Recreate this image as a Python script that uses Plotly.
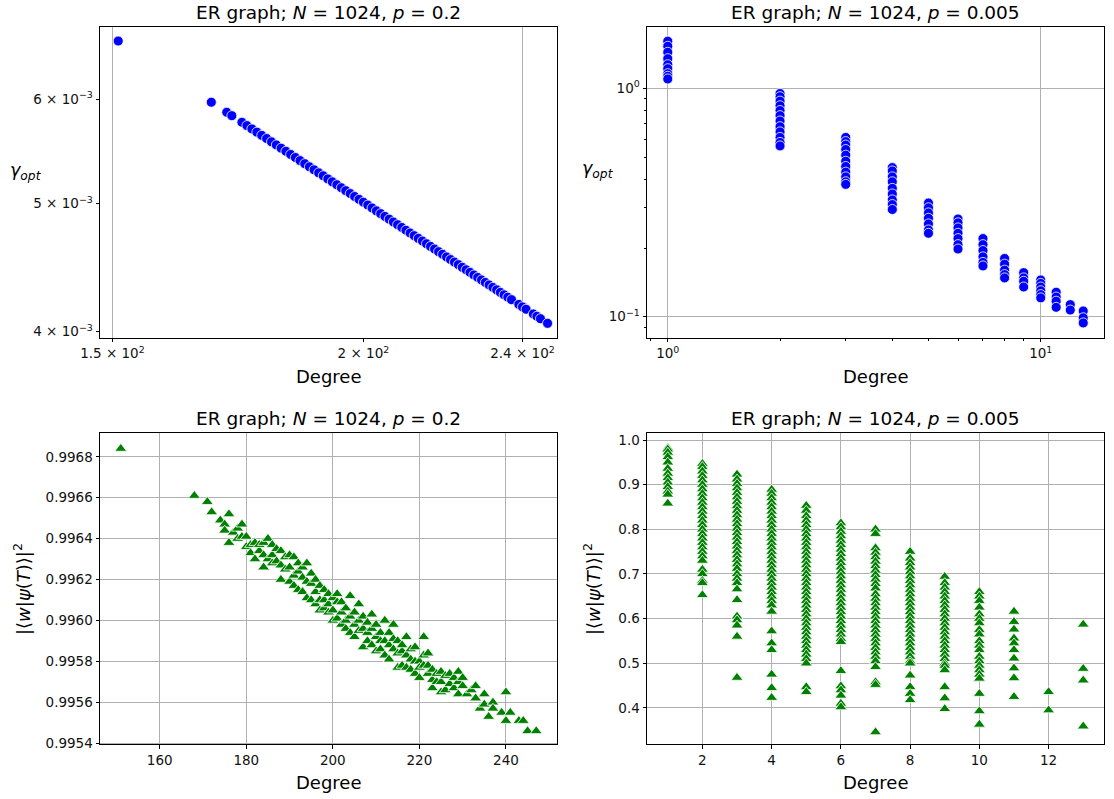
import plotly.graph_objects as go

# ---------------- data: N=1024, p=0.2 ----------------
dense_degree = [151, 168, 171, 172, 174, 175, 176, 177, 178, 179, 180, 181, 182, 183, 184, 185,
                186, 187, 188, 189, 190, 191, 192, 193, 194, 195, 196, 197, 198, 199, 200, 201,
                202, 203, 204, 205, 206, 207, 208, 209, 210, 211, 212, 213, 214, 215, 216, 217,
                218, 219, 220, 221, 222, 223, 224, 225, 226, 227, 228, 229, 230, 231, 232, 233,
                234, 235, 236, 237, 239, 240, 241, 243, 244, 245, 247]
dense_gamma = [0.006639, 0.005967, 0.005863, 0.005829, 0.005762, 0.005729, 0.005696, 0.005664,
               0.005632, 0.005601, 0.005569, 0.005539, 0.005508, 0.005478, 0.005448, 0.005419,
               0.005390, 0.005361, 0.005332, 0.005304, 0.005276, 0.005249, 0.005221, 0.005194,
               0.005168, 0.005141, 0.005115, 0.005089, 0.005063, 0.005038, 0.005013, 0.004988,
               0.004963, 0.004938, 0.004914, 0.004890, 0.004867, 0.004843, 0.004820, 0.004797,
               0.004774, 0.004751, 0.004729, 0.004707, 0.004685, 0.004663, 0.004641, 0.004620,
               0.004599, 0.004578, 0.004557, 0.004536, 0.004516, 0.004496, 0.004475, 0.004456,
               0.004436, 0.004416, 0.004397, 0.004378, 0.004359, 0.004340, 0.004321, 0.004303,
               0.004284, 0.004266, 0.004248, 0.004230, 0.004195, 0.004177, 0.004160, 0.004126,
               0.004109, 0.004092, 0.004059]

bl_degree = [151, 168, 171, 172, 174, 175, 175, 176, 176, 177, 178, 178, 179, 179, 180, 180,
             181, 181, 182, 182, 183, 183, 184, 184, 184, 185, 185, 186, 186, 186, 187, 187,
             188, 188, 188, 189, 189, 190, 190, 190, 191, 191, 191, 192, 192, 192, 193, 193, 193,
             194, 194, 194, 195, 195, 195, 196, 196, 196, 197, 197, 197, 198, 198, 198, 199, 199, 199,
             200, 200, 200, 201, 201, 201, 202, 202, 202, 203, 203, 203, 204, 204, 204, 205, 205, 205,
             206, 206, 206, 207, 207, 207, 208, 208, 208, 209, 209, 209, 210, 210, 210, 211, 211, 211,
             212, 212, 212, 213, 213, 213, 214, 214, 214, 215, 215, 215, 216, 216, 216, 217, 217, 217,
             218, 218, 218, 219, 219, 219, 220, 220, 220, 221, 221, 221, 222, 222, 222, 223, 223, 223,
             224, 224, 225, 225, 225, 226, 226, 227, 227, 228, 228, 229, 229, 229, 230, 230, 231, 232,
             233, 233, 234, 235, 235, 236, 237, 237, 239, 240, 240, 241, 243, 244, 245, 247]
bl_fidelity = [0.99684, 0.99661, 0.99658, 0.99653, 0.99649, 0.99647, 0.99644, 0.99652, 0.99638,
               0.99643, 0.99645, 0.99640, 0.99647, 0.99641, 0.99641, 0.99636, 0.99637, 0.99633,
               0.99638, 0.99630, 0.99634, 0.99637, 0.99626, 0.99638, 0.99632, 0.99640, 0.99630,
               0.99632, 0.99628, 0.99637, 0.99629, 0.99635, 0.99634, 0.99620, 0.99627, 0.99625,
               0.99631, 0.99619, 0.99626, 0.99632, 0.99631, 0.99622, 0.99617, 0.99624, 0.99628,
               0.99615, 0.99621, 0.99614, 0.99626, 0.99628, 0.99619, 0.99611, 0.99618, 0.99623,
               0.99610, 0.99620, 0.99614, 0.99608, 0.99617, 0.99610, 0.99605, 0.99610, 0.99615,
               0.99606, 0.99613, 0.99604, 0.99608, 0.99605, 0.99611, 0.99600, 0.99601, 0.99609,
               0.99613, 0.99604, 0.99598, 0.99609, 0.99606, 0.99600, 0.99596, 0.99612, 0.99602,
               0.99594, 0.99598, 0.99604, 0.99592, 0.99608, 0.99595, 0.99600, 0.99587, 0.99596,
               0.99602, 0.99599, 0.99590, 0.99594, 0.99603, 0.99596, 0.99588, 0.99592, 0.99598,
               0.99585, 0.99594, 0.99586, 0.99590, 0.99600, 0.99590, 0.99583, 0.99581, 0.99588,
               0.99594, 0.99598, 0.99586, 0.99591, 0.99584, 0.99590, 0.99577, 0.99578, 0.99585,
               0.99588, 0.99592, 0.99583, 0.99577, 0.99576, 0.99586, 0.99581, 0.99580, 0.99574,
               0.99587, 0.99572, 0.99580, 0.99577, 0.99592, 0.99578, 0.99583, 0.99584, 0.99574,
               0.99578, 0.99567, 0.99576, 0.99571, 0.99574, 0.99570, 0.99565, 0.99570, 0.99575,
               0.99573, 0.99566, 0.99569, 0.99574, 0.99572, 0.99567, 0.99575, 0.99564, 0.99570,
               0.99568, 0.99572, 0.99564, 0.99566, 0.99568, 0.99562, 0.99557, 0.99564, 0.99559,
               0.99553, 0.99560, 0.99557, 0.99555, 0.99565, 0.99551, 0.99555, 0.99551, 0.99551,
               0.99546, 0.99546]

# ---------------- data: N=1024, p=0.005 ----------------
sparse_degrees = [1, 2, 3, 4, 5, 6, 7, 8, 9, 10, 11, 12, 13]
gamma_k1 = [1.61, 1.53, 1.44, 1.35, 1.27, 1.22, 1.16, 1.13, 1.10]
gamma_k2 = [0.95, 0.92, 0.88, 0.84, 0.80, 0.76, 0.72, 0.68, 0.645, 0.61, 0.58, 0.56]
gamma_k3 = [0.61, 0.585, 0.565, 0.54, 0.51, 0.48, 0.455, 0.43, 0.41, 0.39, 0.38]
gamma_k4 = [0.45, 0.435, 0.41, 0.39, 0.365, 0.345, 0.325, 0.31, 0.295]
gamma_k5 = [0.315, 0.30, 0.285, 0.27, 0.255, 0.24, 0.232]
gamma_k6 = [0.268, 0.258, 0.245, 0.232, 0.22, 0.207, 0.198]
gamma_k7 = [0.22, 0.207, 0.195, 0.183, 0.173, 0.167]
gamma_k8 = [0.18, 0.17, 0.16, 0.153, 0.148]
gamma_k9 = [0.156, 0.148, 0.143, 0.135]
gamma_k10 = [0.145, 0.14, 0.135, 0.13, 0.125, 0.121]
gamma_k11 = [0.128, 0.122, 0.117, 0.11]
gamma_k12 = [0.113, 0.107]
gamma_k13 = [0.106, 0.099, 0.094]

fid_k1 = [0.982, 0.979, 0.972, 0.962, 0.95, 0.936, 0.925, 0.915, 0.905, 0.895, 0.885, 0.878, 0.858]
fid_k2 = [0.947, 0.94, 0.93, 0.92, 0.91, 0.90, 0.89, 0.88, 0.87, 0.86, 0.85, 0.84, 0.83, 0.82,
          0.81, 0.80, 0.79, 0.78, 0.77, 0.76, 0.75, 0.74, 0.73, 0.71, 0.70, 0.685, 0.68, 0.653]
fid_k3 = [0.923, 0.912, 0.902, 0.892, 0.882, 0.872, 0.862, 0.852, 0.842, 0.832, 0.822, 0.812,
          0.802, 0.792, 0.782, 0.772, 0.762, 0.752, 0.742, 0.732, 0.722, 0.712, 0.70, 0.69, 0.68,
          0.666, 0.642, 0.605, 0.597, 0.585, 0.56, 0.468]
fid_k4 = [0.889, 0.88, 0.87, 0.86, 0.85, 0.84, 0.83, 0.82, 0.81, 0.80, 0.79, 0.78, 0.77, 0.76,
          0.75, 0.74, 0.73, 0.72, 0.71, 0.70, 0.69, 0.68, 0.67, 0.66, 0.65, 0.64, 0.63, 0.616,
          0.572, 0.545, 0.53, 0.475, 0.445, 0.423]
fid_k5 = [0.853, 0.842, 0.83, 0.82, 0.81, 0.80, 0.79, 0.78, 0.77, 0.76, 0.75, 0.74, 0.73, 0.72,
          0.71, 0.70, 0.69, 0.68, 0.67, 0.66, 0.65, 0.64, 0.63, 0.62, 0.61, 0.60, 0.59, 0.58,
          0.57, 0.56, 0.55, 0.54, 0.53, 0.52, 0.51, 0.50, 0.447, 0.436]
fid_k6 = [0.814, 0.805, 0.795, 0.785, 0.775, 0.765, 0.755, 0.745, 0.735, 0.725, 0.715, 0.705,
          0.695, 0.685, 0.675, 0.665, 0.655, 0.645, 0.635, 0.625, 0.615, 0.605, 0.595, 0.585,
          0.575, 0.565, 0.555, 0.548, 0.483, 0.449, 0.44, 0.428, 0.41, 0.402]
fid_k7 = [0.80, 0.79, 0.758, 0.748, 0.738, 0.728, 0.718, 0.708, 0.698, 0.688, 0.678, 0.668,
          0.655, 0.645, 0.635, 0.625, 0.615, 0.605, 0.595, 0.585, 0.575, 0.565, 0.555, 0.545,
          0.535, 0.525, 0.515, 0.505, 0.492, 0.458, 0.452, 0.346]
fid_k8 = [0.75, 0.735, 0.725, 0.715, 0.705, 0.695, 0.685, 0.675, 0.665, 0.655, 0.645, 0.635,
          0.625, 0.615, 0.605, 0.595, 0.585, 0.575, 0.565, 0.555, 0.545, 0.535, 0.525, 0.515,
          0.505, 0.50, 0.473, 0.447, 0.432, 0.418]
fid_k9 = [0.694, 0.68, 0.67, 0.66, 0.65, 0.64, 0.63, 0.62, 0.61, 0.60, 0.59, 0.58, 0.57, 0.56,
          0.55, 0.54, 0.53, 0.52, 0.51, 0.50, 0.495, 0.485, 0.447, 0.422, 0.398]
fid_k10 = [0.66, 0.65, 0.64, 0.625, 0.61, 0.60, 0.59, 0.575, 0.565, 0.55, 0.54, 0.53, 0.515,
           0.505, 0.495, 0.485, 0.475, 0.466, 0.432, 0.393, 0.363]
fid_k11 = [0.616, 0.593, 0.576, 0.556, 0.545, 0.53, 0.511, 0.489, 0.467, 0.425]
fid_k12 = [0.436, 0.395]
fid_k13 = [0.587, 0.488, 0.462, 0.359]

gamma_groups = [gamma_k1, gamma_k2, gamma_k3, gamma_k4, gamma_k5, gamma_k6, gamma_k7,
                gamma_k8, gamma_k9, gamma_k10, gamma_k11, gamma_k12, gamma_k13]
fid_groups = [fid_k1, fid_k2, fid_k3, fid_k4, fid_k5, fid_k6, fid_k7,
              fid_k8, fid_k9, fid_k10, fid_k11, fid_k12, fid_k13]

tr_x, tr_y, br_x, br_y = [], [], [], []
for k, g, f in zip(sparse_degrees, gamma_groups, fid_groups):
    tr_x += [k] * len(g)
    tr_y += g
    br_x += [k] * len(f)
    br_y += f

# ---------------- styling ----------------
W, H = 1114, 799
FONT = "DejaVu Sans"
BLUE = "#0000ff"
GREEN = "#008000"
GRID = "#b0b0b0"

def px(x):
    return x / W

def py(y):
    return 1 - y / H

L_DOM = [px(100), px(557)]
R_DOM = [px(647), px(1104)]
T_DOM = [py(337.5), py(27)]
B_DOM = [py(744.3), py(433.3)]

fig = go.Figure()

circ = dict(color=BLUE, size=10, symbol="circle", line=dict(color="white", width=0.8))
tri = dict(color=GREEN, size=10.5, symbol="triangle-up", line=dict(color="white", width=0.8))

fig.add_trace(go.Scatter(x=dense_degree, y=dense_gamma, mode="markers", marker=circ,
                         xaxis="x", yaxis="y", showlegend=False))
fig.add_trace(go.Scatter(x=tr_x, y=tr_y, mode="markers", marker=circ,
                         xaxis="x2", yaxis="y2", showlegend=False))
fig.add_trace(go.Scatter(x=bl_degree, y=bl_fidelity, mode="markers", marker=tri,
                         xaxis="x3", yaxis="y3", showlegend=False))
fig.add_trace(go.Scatter(x=br_x, y=br_y, mode="markers", marker=tri,
                         xaxis="x4", yaxis="y4", showlegend=False))

base_ax = dict(showline=True, linecolor="black", linewidth=1, mirror=True,
               ticks="outside", ticklen=3.5, tickwidth=0.8, tickcolor="black",
               tickfont=dict(family=FONT, size=13.5, color="#111"),
               zeroline=False, gridcolor=GRID, gridwidth=1, automargin=False)

def sup(s):
    return "<sup>" + s + "</sup>"

fig.update_layout(
    width=W, height=H, margin=dict(l=0, r=0, t=0, b=0, autoexpand=False),
    paper_bgcolor="white", plot_bgcolor="white",
    font=dict(family=FONT, color="black"),
    xaxis=dict(base_ax, domain=L_DOM, anchor="y", type="log",
               range=[2.1699, 2.3974], tickmode="array",
               tickvals=[150, 200, 240],
               ticktext=["1.5 × 10" + sup("2"), "2 × 10" + sup("2"), "2.4 × 10" + sup("2")],
               showgrid=False,
               minor=dict(tickmode="array", tickvals=[150, 240], showgrid=True,
                          gridcolor=GRID, gridwidth=1, ticks="")),
    yaxis=dict(base_ax, domain=T_DOM, anchor="x", type="log",
               range=[-2.4023, -2.1673], tickmode="array",
               tickvals=[0.004, 0.005, 0.006],
               ticktext=["4 × 10" + sup("−3"), "5 × 10" + sup("−3"), "6 × 10" + sup("−3")],
               showgrid=False),
    xaxis2=dict(base_ax, domain=R_DOM, anchor="y2", type="log",
                range=[-0.0557, 1.1696], tickmode="array",
                tickvals=[1, 10], ticktext=["10" + sup("0"), "10" + sup("1")],
                showgrid=True,
                minor=dict(tickmode="array", tickvals=[0.9, 2, 3, 4, 5, 6, 7, 8, 9],
                           ticks="outside", ticklen=2, tickcolor="black", showgrid=False)),
    yaxis2=dict(base_ax, domain=T_DOM, anchor="x2", type="log",
                range=[-1.0908, 0.2689], tickmode="array",
                tickvals=[0.1, 1], ticktext=["10" + sup("−1"), "10" + sup("0")],
                showgrid=True,
                minor=dict(tickmode="array",
                           tickvals=[0.09, 0.2, 0.3, 0.4, 0.5, 0.6, 0.7, 0.8, 0.9],
                           ticks="outside", ticklen=2, tickcolor="black", showgrid=False)),
    xaxis3=dict(base_ax, domain=L_DOM, anchor="y3", range=[146.2, 251.8],
                tickmode="array", tickvals=[160, 180, 200, 220, 240], showgrid=True),
    yaxis3=dict(base_ax, domain=B_DOM, anchor="x3", range=[0.995395, 0.996915],
                tickmode="array",
                tickvals=[0.9954, 0.9956, 0.9958, 0.9960, 0.9962, 0.9964, 0.9966, 0.9968],
                ticktext=["0.9954", "0.9956", "0.9958", "0.9960", "0.9962", "0.9964",
                          "0.9966", "0.9968"],
                showgrid=True),
    xaxis4=dict(base_ax, domain=R_DOM, anchor="y4", range=[0.4, 13.6],
                tickmode="array", tickvals=[2, 4, 6, 8, 10, 12], showgrid=True),
    yaxis4=dict(base_ax, domain=B_DOM, anchor="x4", range=[0.3187, 1.015],
                tickmode="array", tickvals=[0.4, 0.5, 0.6, 0.7, 0.8, 0.9, 1.0],
                ticktext=["0.4", "0.5", "0.6", "0.7", "0.8", "0.9", "1.0"],
                showgrid=True),
)

ann = []
title_font = dict(family=FONT, size=18.5, color="black")
label_font = dict(family=FONT, size=18, color="black")
t02 = "ER graph; <i>N</i> = 1024, <i>p</i> = 0.2"
t0005 = "ER graph; <i>N</i> = 1024, <i>p</i> = 0.005"
for xc, yc, txt in [(328.5, 12, t02), (875.5, 12, t0005), (328.5, 418, t02), (875.5, 418, t0005)]:
    ann.append(dict(x=px(xc), y=py(yc), xref="paper", yref="paper", text=txt,
                    showarrow=False, xanchor="center", yanchor="middle", font=title_font))
for xc, yc in [(328.5, 377), (875.5, 377), (328.5, 782), (875.5, 782)]:
    ann.append(dict(x=px(xc), y=py(yc), xref="paper", yref="paper", text="Degree",
                    showarrow=False, xanchor="center", yanchor="middle", font=label_font))
gam = "<i>γ</i><sub><i>opt</i></sub>"
for xc, yc in [(26, 172), (598, 170)]:
    ann.append(dict(x=px(xc), y=py(yc), xref="paper", yref="paper", text=gam,
                    showarrow=False, xanchor="center", yanchor="middle",
                    font=dict(family=FONT, size=17.5, color="black")))
fid = "|⟨<i>w</i>|<i>ψ</i>(<i>T</i>)⟩|<sup>2</sup>"
for xc, yc in [(22, 589), (592, 589)]:
    ann.append(dict(x=px(xc), y=py(yc), xref="paper", yref="paper", text=fid,
                    showarrow=False, xanchor="center", yanchor="middle", textangle=-90,
                    font=dict(family=FONT, size=18, color="black")))
fig.update_layout(annotations=ann)

fig.write_html("out.html")
